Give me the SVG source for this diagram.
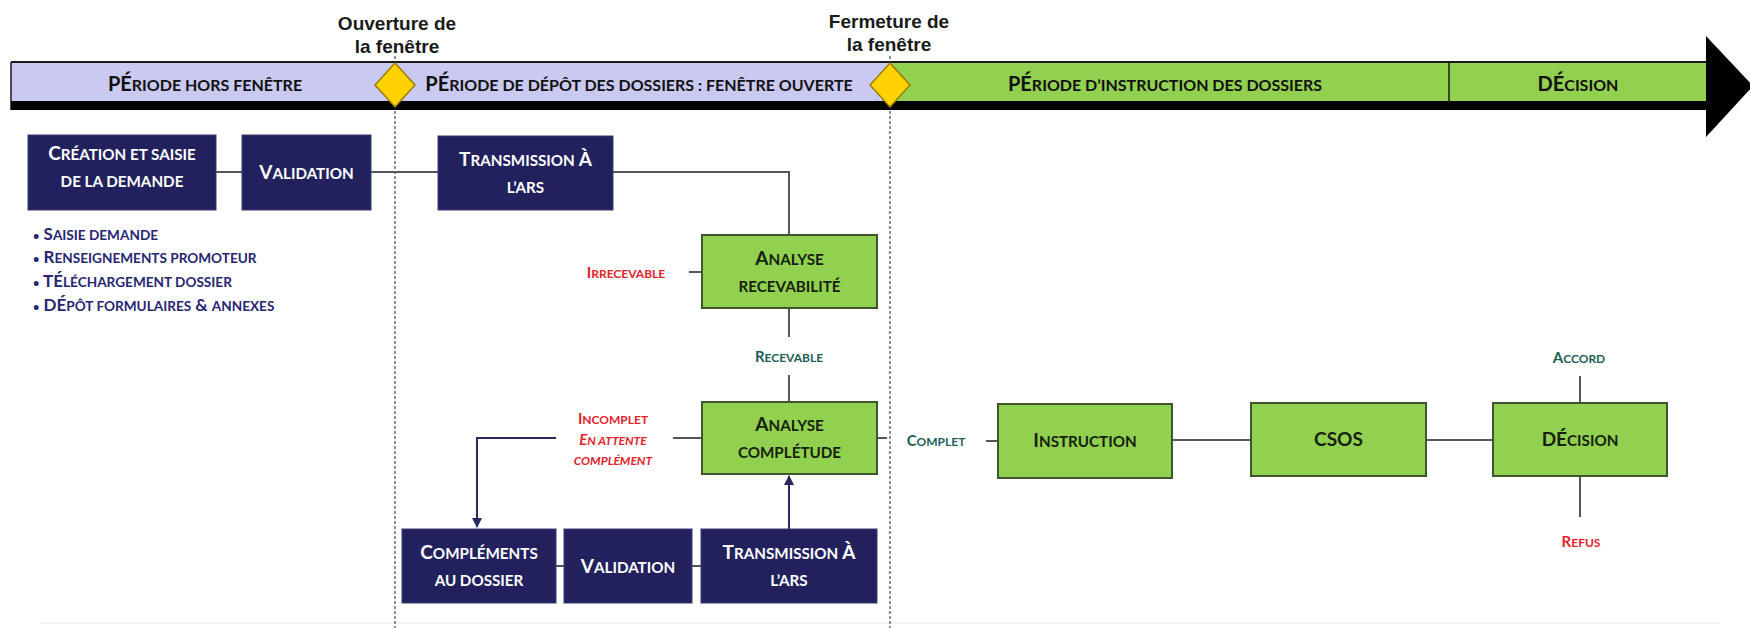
<svg xmlns="http://www.w3.org/2000/svg" width="1750" height="628" viewBox="0 0 1750 628">
<defs>
<style>
.nv{fill:#22215e;stroke:#3b3a72;stroke-width:1}
.gr{fill:#92d050;stroke:#3e5530;stroke-width:2}
.t{font-family:Lato,"Open Sans","Liberation Sans",sans-serif;font-weight:700;text-anchor:middle}
.bt{font-size:19px}
.w{fill:#ffffff}
.d{fill:#15230e}
.s{font-size:80%}
.dot{font-size:65%}
.con{stroke:#55555f;stroke-width:2;fill:none}
.arr{stroke:#2a2960;stroke-width:2;fill:none}
.dash{stroke:#6b6b85;stroke-width:1.5;stroke-dasharray:3 2;fill:none}
.red{fill:#e3232c}
.teal{fill:#1d5e55}
.lbl{font-size:15px}
.hd{font-family:"Liberation Sans",Arial,sans-serif;font-weight:700;font-size:19px;fill:#1a1a1a;text-anchor:middle}
.dia{fill:#ffd200;stroke:#9c7c00;stroke-width:1.5}
.bar{font-family:Lato,"Open Sans",sans-serif;font-weight:700;font-size:20px;fill:#111;text-anchor:middle}
.bul{font-family:Lato,"Open Sans",sans-serif;font-weight:700;font-size:17px;fill:#262673}
</style>
<marker id="ah" viewBox="0 0 10 10" refX="9" refY="5" markerWidth="5" markerHeight="5" orient="auto">
<path d="M0,0 L10,5 L0,10 z" fill="#2a2960"/>
</marker>
</defs>
<rect x="0" y="0" width="1750" height="628" fill="#ffffff"/>
<line x1="40" y1="623" x2="1720" y2="623" stroke="#ececec" stroke-width="1.5"/>

<g id="window-lines">
<line class="dash" x1="395" y1="56" x2="395" y2="628"/>
<line class="dash" x1="890" y1="56" x2="890" y2="628"/>
</g>

<g id="timeline">
<rect x="11" y="62" width="879" height="41" fill="#c9c9f2"/>
<rect x="890" y="62" width="817" height="41" fill="#92d050"/>
<line x1="11" y1="62" x2="1707" y2="62" stroke="#1a1a1a" stroke-width="2"/>
<line x1="11" y1="62" x2="11" y2="110" stroke="#1a1a1a" stroke-width="1.5"/>
<rect x="11" y="101" width="1700" height="9" fill="#000"/>
<line x1="1449" y1="62" x2="1449" y2="103" stroke="#1a1a1a" stroke-width="1.5"/>
<polygon points="1706,36 1753,86 1706,137" fill="#000"/>
<text class="bar" x="205" y="91">PÉ<tspan class="s">RIODE HORS FENÊTRE</tspan></text>
<text class="bar" x="639" y="91" font-size="19.4">PÉ<tspan class="s">RIODE DE DÉPÔT DES DOSSIERS : FENÊTRE OUVERTE</tspan></text>
<text class="bar" x="1165" y="91">PÉ<tspan class="s">RIODE D’INSTRUCTION DES DOSSIERS</tspan></text>
<text class="bar" x="1578" y="91">DÉ<tspan class="s">CISION</tspan></text>
</g>

<g id="ouverture">
<polygon class="dia" points="395,63 415,85 395,107 375,85"/>
<text class="hd" x="397" y="30">Ouverture de</text>
<text class="hd" x="397" y="53">la fenêtre</text>
</g>
<g id="fermeture">
<polygon class="dia" points="890,63 910,85 890,107 870,85"/>
<text class="hd" x="889" y="28">Fermeture de</text>
<text class="hd" x="889" y="51">la fenêtre</text>
</g>

<g id="connectors">
<line class="con" x1="216" y1="172" x2="242" y2="172"/>
<line class="con" x1="371" y1="172" x2="438" y2="172"/>
<polyline class="con" points="613,172 789,172 789,235"/>
<line class="con" x1="689" y1="272" x2="702" y2="272"/>
<line class="con" x1="789" y1="308" x2="789" y2="337"/>
<line class="con" x1="789" y1="375" x2="789" y2="402"/>
<line class="con" x1="673" y1="438" x2="702" y2="438"/>
<polyline class="arr" points="556,438 477,438 477,527" marker-end="url(#ah)"/>
<line class="con" x1="877" y1="438" x2="887" y2="438"/>
<line class="con" x1="986" y1="441" x2="998" y2="441"/>
<line class="con" x1="556" y1="566" x2="564" y2="566"/>
<line class="con" x1="692" y1="566" x2="701" y2="566"/>
<line class="arr" x1="789" y1="529" x2="789" y2="476" marker-end="url(#ah)"/>
<line class="con" x1="1172" y1="440" x2="1251" y2="440"/>
<line class="con" x1="1426" y1="440" x2="1493" y2="440"/>
<line class="con" x1="1580" y1="376" x2="1580" y2="403"/>
<line class="con" x1="1580" y1="476" x2="1580" y2="517"/>
</g>

<g id="n-creation">
<rect class="nv" x="28" y="135" width="188" height="75"/>
<text class="t bt w" x="122" y="160">C<tspan class="s">RÉATION ET SAISIE</tspan></text>
<text class="t bt w" x="122" y="187"><tspan class="s">DE LA DEMANDE</tspan></text>
</g>
<g id="n-validation-1">
<rect class="nv" x="242" y="135" width="129" height="75"/>
<text class="t bt w" x="306.5" y="179">V<tspan class="s">ALIDATION</tspan></text>
</g>
<g id="n-transmission-1">
<rect class="nv" x="438" y="136" width="175" height="74"/>
<text class="t bt w" x="525.5" y="166">T<tspan class="s">RANSMISSION</tspan> À</text>
<text class="t bt w" x="525.5" y="193"><tspan class="s">L’ARS</tspan></text>
</g>
<g id="bullets">
<text class="bul" x="33" y="240"><tspan class="dot">•</tspan> S<tspan class="s">AISIE DEMANDE</tspan></text>
<text class="bul" x="33" y="263"><tspan class="dot">•</tspan> R<tspan class="s">ENSEIGNEMENTS PROMOTEUR</tspan></text>
<text class="bul" x="33" y="287"><tspan class="dot">•</tspan> TÉ<tspan class="s">LÉCHARGEMENT DOSSIER</tspan></text>
<text class="bul" x="33" y="311"><tspan class="dot">•</tspan> DÉ<tspan class="s">PÔT FORMULAIRES</tspan> &amp; <tspan class="s">ANNEXES</tspan></text>
</g>
<g id="n-recevabilite">
<rect class="gr" x="702" y="235" width="175" height="73"/>
<text class="t bt d" x="789.5" y="265">A<tspan class="s">NALYSE</tspan></text>
<text class="t bt d" x="789.5" y="292"><tspan class="s">RECEVABILITÉ</tspan></text>
</g>
<g id="n-completude">
<rect class="gr" x="702" y="402" width="175" height="72"/>
<text class="t bt d" x="789.5" y="431">A<tspan class="s">NALYSE</tspan></text>
<text class="t bt d" x="789.5" y="458"><tspan class="s">COMPLÉTUDE</tspan></text>
</g>
<g id="n-complements">
<rect class="nv" x="402" y="529" width="154" height="74"/>
<text class="t bt w" x="479" y="559">C<tspan class="s">OMPLÉMENTS</tspan></text>
<text class="t bt w" x="479" y="586"><tspan class="s">AU DOSSIER</tspan></text>
</g>
<g id="n-validation-2">
<rect class="nv" x="564" y="529" width="128" height="74"/>
<text class="t bt w" x="628" y="573">V<tspan class="s">ALIDATION</tspan></text>
</g>
<g id="n-transmission-2">
<rect class="nv" x="701" y="529" width="176" height="74"/>
<text class="t bt w" x="789" y="559">T<tspan class="s">RANSMISSION</tspan> À</text>
<text class="t bt w" x="789" y="586"><tspan class="s">L’ARS</tspan></text>
</g>
<g id="n-instruction">
<rect class="gr" x="998" y="404" width="174" height="74"/>
<text class="t bt d" x="1085" y="447">I<tspan class="s">NSTRUCTION</tspan></text>
</g>
<g id="n-csos">
<rect class="gr" x="1251" y="403" width="175" height="73"/>
<text class="t bt d" x="1338.5" y="446">CSOS</text>
</g>
<g id="n-decision">
<rect class="gr" x="1493" y="403" width="174" height="73"/>
<text class="t bt d" x="1580" y="446">DÉ<tspan class="s">CISION</tspan></text>
</g>

<g id="labels">
<text class="t lbl red" x="626" y="278">I<tspan class="s">RRECEVABLE</tspan></text>
<text class="t lbl teal" x="789" y="362">R<tspan class="s">ECEVABLE</tspan></text>
<text class="t lbl red" x="613" y="424">I<tspan class="s">NCOMPLET</tspan></text>
<text class="t lbl red" x="613" y="445" font-style="italic">E<tspan class="s">N ATTENTE</tspan></text>
<text class="t lbl red" x="613" y="465" font-style="italic"><tspan class="s">COMPLÉMENT</tspan></text>
<text class="t lbl teal" x="936" y="446">C<tspan class="s">OMPLET</tspan></text>
<text class="t lbl teal" x="1579" y="363">A<tspan class="s">CCORD</tspan></text>
<text class="t lbl red" x="1581" y="547">R<tspan class="s">EFUS</tspan></text>
</g>
</svg>
